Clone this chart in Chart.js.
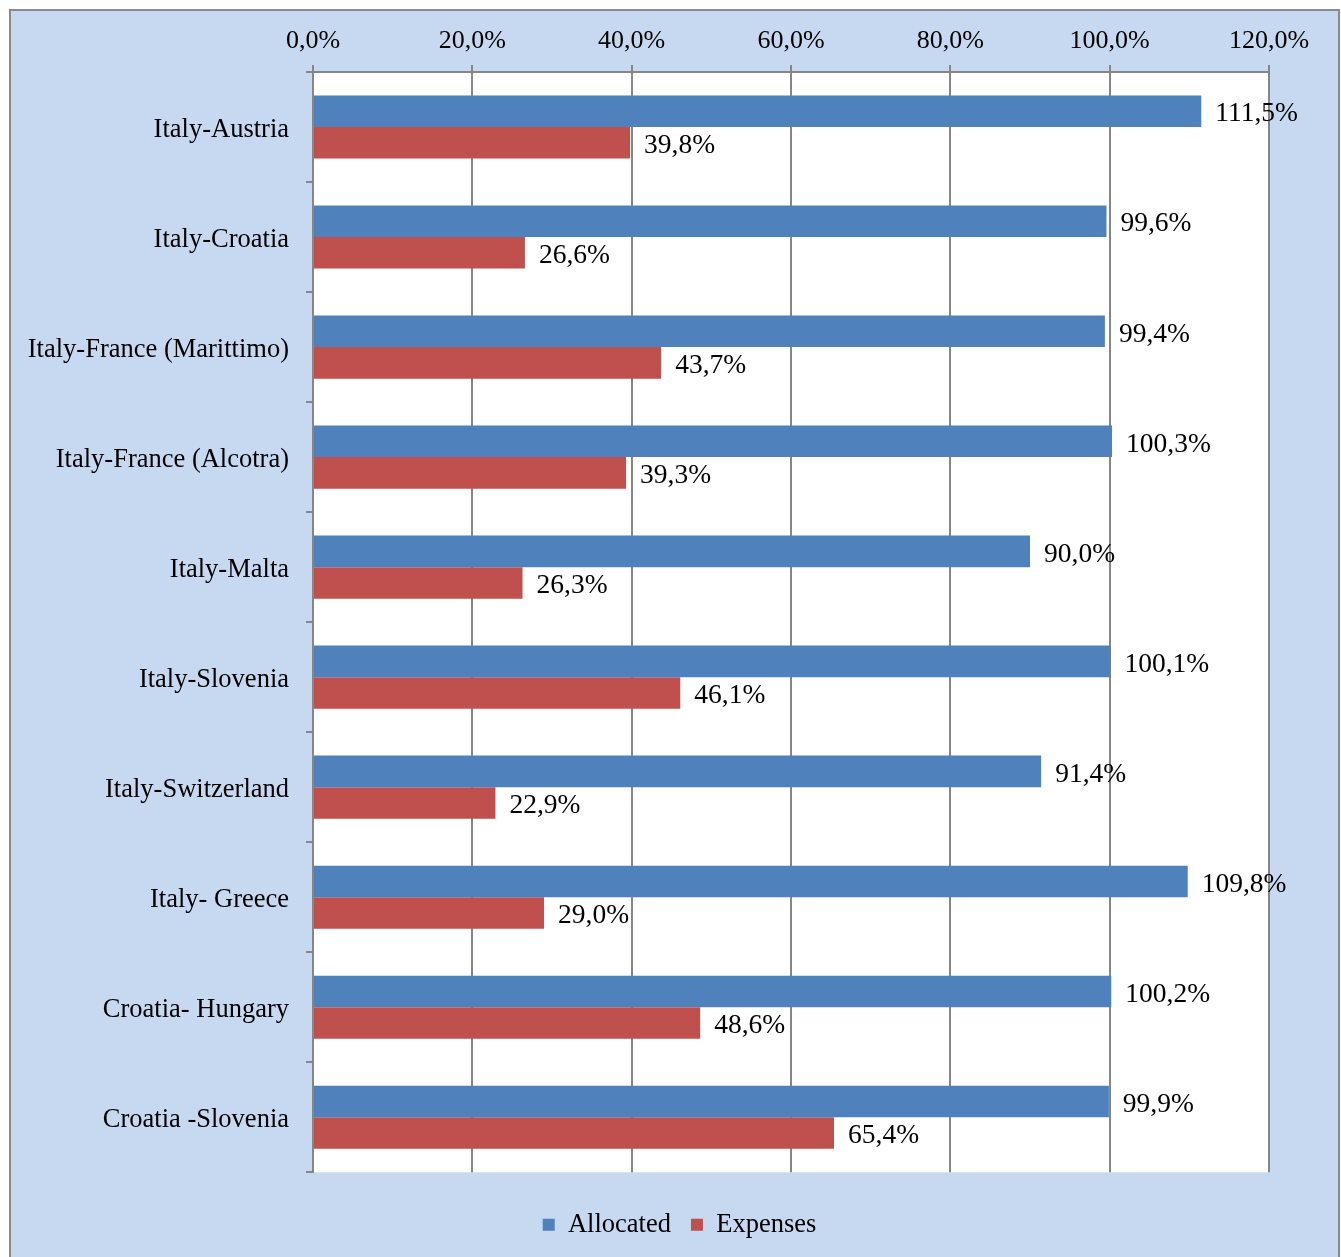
<!DOCTYPE html>
<html>
<head>
<meta charset="utf-8">
<script src="https://cdn.jsdelivr.net/npm/chart.js@4/dist/chart.umd.min.js"></script>
<style>
  html, body { margin: 0; padding: 0; overflow: hidden; background: #fff; }
  #frame {
    position: absolute; left: 9px; top: 9px; width: 1331px; height: 1300px;
    box-sizing: border-box; border: 2px solid #8a8a8a; background: #c6d9f0;
  }
  #chart { position: absolute; left: 0; top: 0; }
</style>
</head>
<body>
<div id="frame"></div>
<canvas id="chart" width="1341" height="1257"></canvas>
<script>
const categories = [
  'Italy-Austria',
  'Italy-Croatia',
  'Italy-France (Marittimo)',
  'Italy-France (Alcotra)',
  'Italy-Malta',
  'Italy-Slovenia',
  'Italy-Switzerland',
  'Italy- Greece',
  'Croatia- Hungary',
  'Croatia -Slovenia'
];
const allocated = [111.5, 99.6, 99.4, 100.3, 90.0, 100.1, 91.4, 109.8, 100.2, 99.9];
const expenses = [39.8, 26.6, 43.7, 39.3, 26.3, 46.1, 22.9, 29.0, 48.6, 65.4];
const xTicks = [0, 20, 40, 60, 80, 100, 120];

const FONT = 'Liberation Serif, Times New Roman, serif';
const GRID = '#868686';

// Italian style percent: 39,8%
const pct = v => Number(v).toFixed(1).replace('.', ',') + '%';

// white plot area behind the bars
const plotBg = {
  id: 'plotBg',
  beforeDraw(chart) {
    const { ctx, chartArea: a } = chart;
    ctx.save();
    ctx.fillStyle = '#fff';
    ctx.fillRect(a.left, a.top, a.right - a.left, a.bottom - a.top);
    ctx.restore();
  }
};

// value labels to the right of each bar end
const valueLabels = {
  id: 'valueLabels',
  afterDatasetsDraw(chart) {
    const ctx = chart.ctx;
    ctx.save();
    ctx.font = '27.5px ' + FONT;
    ctx.fillStyle = '#000';
    ctx.textAlign = 'left';
    ctx.textBaseline = 'middle';
    chart.data.datasets.forEach((ds, i) => {
      chart.getDatasetMeta(i).data.forEach((bar, j) => {
        ctx.fillText(pct(ds.data[j]), bar.x + 14, bar.y + 3);
      });
    });
    ctx.restore();
  }
};

new Chart(document.getElementById('chart'), {
  type: 'bar',
  data: {
    labels: categories,
    datasets: [
      { label: 'Allocated', data: allocated, backgroundColor: '#4f81bd' },
      { label: 'Expenses', data: expenses, backgroundColor: '#c0504d' }
    ]
  },
  options: {
    indexAxis: 'y',
    responsive: false,
    animation: false,
    devicePixelRatio: 1,
    categoryPercentage: 0.574,
    barPercentage: 1.0,
    layout: { padding: { top: 0, left: 18, right: 0, bottom: 9 } },
    scales: {
      x: {
        type: 'linear',
        position: 'top',
        min: 0,
        max: 120,
        afterBuildTicks: s => { s.ticks = xTicks.map(v => ({ value: v })); },
        afterFit: s => { s.height = 72; },
        ticks: { callback: v => pct(v), color: '#000', font: { family: FONT, size: 26 }, padding: 8, maxRotation: 0 },
        grid: { color: GRID, lineWidth: 2, tickLength: 7 },
        border: { color: GRID, width: 2 }
      },
      y: {
        type: 'category',
        offset: true,
        afterFit: s => { s.width = 313 - 18; },
        ticks: { color: '#000', font: { family: FONT, size: 26.5 }, padding: 17, labelOffset: 3 },
        grid: { offset: true, drawOnChartArea: false, color: GRID, lineWidth: 2, tickLength: 7 },
        border: { color: GRID, width: 2 }
      },
      // empty axis on the right, only keeps the margin right of the plot
      yRight: {
        type: 'category',
        position: 'right',
        afterFit: s => { s.width = 1341 - 1269; },
        ticks: { display: false },
        grid: { display: false },
        border: { display: false }
      }
    },
    plugins: {
      legend: {
        position: 'bottom',
        title: { display: true, text: '', font: { size: 1 }, padding: { top: 18, bottom: 0 } },
        labels: {
          boxWidth: 12, boxHeight: 12, padding: 20,
          color: '#000', font: { family: FONT, size: 26.5 }
        }
      },
      tooltip: { enabled: false }
    }
  },
  plugins: [plotBg, valueLabels]
});
</script>
</body>
</html>
